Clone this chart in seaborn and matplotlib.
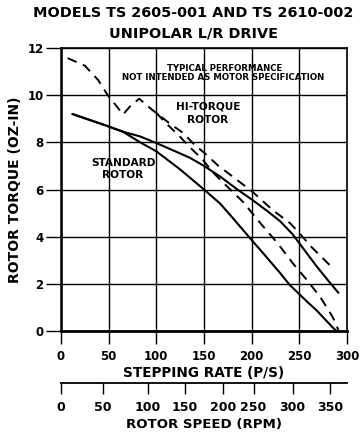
import seaborn as sns
import matplotlib.pyplot as plt

# curves: stepping rate (p/s) vs rotor torque (oz-in)
hi_dash_rate = [7, 25, 39, 49, 57, 65, 73, 82, 95, 114, 128, 140, 153, 164, 180, 201, 222, 240, 249, 263, 285]
hi_dash_torque = [11.57, 11.25, 10.64, 10.0, 9.6, 9.18, 9.55, 9.85, 9.4, 8.8, 8.4, 7.9, 7.46, 7.04, 6.55, 5.9, 5.13, 4.58, 4.2, 3.55, 2.67]

lo_dash_rate = [100, 109, 125, 135, 149, 159, 175, 191, 209, 227, 243, 258, 272, 285, 291]
lo_dash_torque = [9.25, 8.86, 8.23, 7.8, 7.25, 6.74, 6.1, 5.47, 4.58, 3.73, 2.88, 2.16, 1.44, 0.59, 0.04]

hi_solid_rate = [12, 30, 46, 65, 83, 100, 117, 135, 150, 167, 185, 200, 216, 230, 243, 255, 268, 280, 291]
hi_solid_torque = [9.2, 8.95, 8.73, 8.45, 8.25, 7.97, 7.67, 7.35, 7.0, 6.55, 6.0, 5.58, 5.1, 4.65, 4.1, 3.45, 2.75, 2.15, 1.62]

lo_solid_rate = [12, 30, 46, 65, 83, 100, 125, 150, 167, 180, 198, 212, 230, 240, 258, 268, 285, 289]
lo_solid_torque = [9.2, 8.95, 8.73, 8.45, 8.0, 7.62, 6.85, 6.0, 5.4, 4.8, 3.95, 3.3, 2.45, 1.95, 1.25, 0.88, 0.15, 0.0]

rate_ticks = [0, 50, 100, 150, 200, 250, 300]
torque_ticks = [0, 2, 4, 6, 8, 10, 12]

# rotor speed scale under the chart (hand drawn, not evenly spaced)
rpm_labels = [0, 50, 100, 150, 200, 250, 300, 350]
rpm_at_rate = [0, 44, 91, 130, 170, 202, 243, 282]

sns.set_theme(style="white")
plt.rcParams['font.family'] = ['DejaVu Sans']
plt.rcParams['font.weight'] = 'bold'
plt.rcParams['text.color'] = 'black'
plt.rcParams['axes.labelcolor'] = 'black'
plt.rcParams['xtick.color'] = 'black'
plt.rcParams['ytick.color'] = 'black'

fig = plt.figure(figsize=(3.64, 4.36), dpi=100)
ax = fig.add_axes([0.1676, 0.2408, 0.7857, 0.6491])

dash = (0, (5, 3.5))
sns.lineplot(x=hi_dash_rate, y=hi_dash_torque, color='black', lw=1.4, linestyle=dash, ax=ax)
sns.lineplot(x=lo_dash_rate, y=lo_dash_torque, color='black', lw=1.4, linestyle=dash, ax=ax)
sns.lineplot(x=hi_solid_rate, y=hi_solid_torque, color='black', lw=1.5, ax=ax)
sns.lineplot(x=lo_solid_rate, y=lo_solid_torque, color='black', lw=1.5, ax=ax)

ax.set_xlim(0, 300)
ax.set_ylim(0, 12)
ax.set_xticks(rate_ticks)
ax.set_yticks(torque_ticks)
ax.grid(True, color='black', lw=1.0)
for s in ax.spines.values():
    s.set_color('black')
    s.set_linewidth(1.2)
ax.spines['bottom'].set_linewidth(2.0)
ax.spines['left'].set_linewidth(1.8)
ax.tick_params(axis='y', direction='out', length=11, width=1.0, pad=1.5, labelsize=8.5, left=True, color='black')
ax.tick_params(axis='x', direction='out', length=9, width=1.0, pad=5, labelsize=8.5, bottom=True, color='black')
for lab in ax.get_xticklabels() + ax.get_yticklabels():
    lab.set_fontweight('bold')

ax.set_ylabel('ROTOR TORQUE (OZ-IN)', fontsize=10, fontweight='bold', labelpad=4)
ax.set_xlabel('STEPPING RATE (P/S)', fontsize=9.8, fontweight='bold', labelpad=2)

ax.text(172, 11.15, 'TYPICAL PERFORMANCE', fontsize=6.2, fontweight='bold', ha='center', va='center')
ax.text(170, 10.77, 'NOT INTENDED AS MOTOR SPECIFICATION', fontsize=6.2, fontweight='bold', ha='center', va='center')
ax.text(154, 9.5, 'HI-TORQUE', fontsize=7.6, fontweight='bold', ha='center', va='center')
ax.text(154, 8.95, 'ROTOR', fontsize=7.6, fontweight='bold', ha='center', va='center')
ax.text(65, 7.12, 'STANDARD', fontsize=7.6, fontweight='bold', ha='center', va='center')
ax.text(65, 6.6, 'ROTOR', fontsize=7.6, fontweight='bold', ha='center', va='center')

# second scale: rotor speed
ax2 = fig.add_axes([0.1676, 0.1216, 0.7857, 0.01])
ax2.set_facecolor('none')
ax2.set_xlim(0, 300)
ax2.set_yticks([])
for k in ['top', 'left', 'right']:
    ax2.spines[k].set_visible(False)
ax2.spines['bottom'].set_color('black')
ax2.spines['bottom'].set_linewidth(1.3)
ax2.set_xticks(rpm_at_rate)
ax2.set_xticklabels([str(v) for v in rpm_labels], fontweight='bold')
ax2.tick_params(axis='x', direction='out', length=8, width=1.0, pad=5, labelsize=9, bottom=True, color='black')
ax2.set_xlabel('ROTOR SPEED (RPM)', fontsize=9.6, fontweight='bold', labelpad=3)

fig.text(0.5316, 0.970, 'MODELS TS 2605-001 AND TS 2610-002', fontsize=10.4, fontweight='bold', ha='center', va='center')
fig.text(0.5316, 0.924, 'UNIPOLAR L/R DRIVE', fontsize=10.4, fontweight='bold', ha='center', va='center')

plt.savefig('out.png', dpi=100)
